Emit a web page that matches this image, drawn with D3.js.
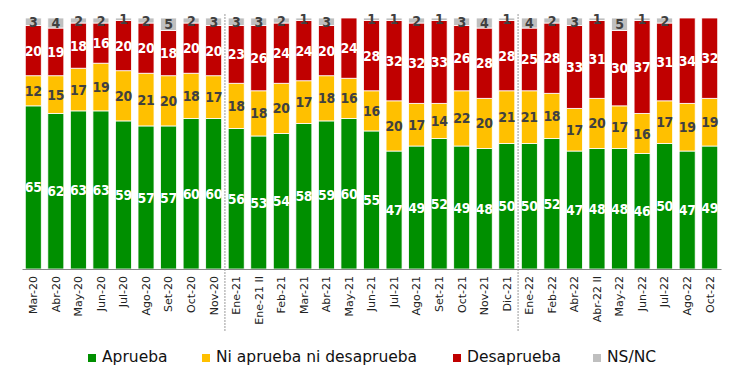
<!DOCTYPE html>
<html>
<head>
<meta charset="utf-8">
<script src="https://cdn.jsdelivr.net/npm/d3@7"></script>
<style>
  body { margin: 0; background: #fff; }
  svg { display: block; }
</style>
</head>
<body>
<div id="chart"></div>
<script>
// Periods shown on the x axis
const periods = ["Mar-20", "Abr-20", "May-20", "Jun-20", "Jul-20", "Ago-20", "Set-20", "Oct-20", "Nov-20",
    "Ene-21", "Ene-21 II", "Feb-21", "Mar-21", "Abr-21", "May-21", "Jun-21", "Jul-21", "Ago-21", "Set-21",
    "Oct-21", "Nov-21", "Dic-21",
    "Ene-22", "Feb-22", "Abr-22", "Abr-22 II", "May-22", "Jun-22", "Jul-22", "Ago-22", "Oct-22"];

// Series values (%)
const aprueba = [65, 62, 63, 63, 59, 57, 57, 60, 60,
    56, 53, 54, 58, 59, 60, 55, 47, 49, 52, 49, 48, 50,
    50, 52, 47, 48, 48, 46, 50, 47, 49];
const niNi = [12, 15, 17, 19, 20, 21, 20, 18, 17,
    18, 18, 20, 17, 18, 16, 16, 20, 17, 14, 22, 20, 21,
    21, 18, 17, 20, 17, 16, 17, 19, 19];
const desaprueba = [20, 19, 18, 16, 20, 20, 18, 20, 20,
    23, 26, 24, 24, 20, 24, 28, 32, 32, 33, 26, 28, 28,
    25, 28, 33, 31, 30, 37, 31, 34, 32];
const nsnc = [3, 4, 2, 2, 1, 2, 5, 2, 3,
    3, 3, 2, 1, 3, 0, 1, 1, 2, 1, 3, 4, 1,
    4, 2, 3, 1, 5, 1, 2, 0, 0];

// Year breaks: dashed line drawn before these periods
const yearBreaks = ["Ene-21", "Ene-22"];

const seriesNames = ["Aprueba", "Ni aprueba ni desaprueba", "Desaprueba", "NS/NC"];
const seriesColors = ["#008f00", "#ffc000", "#c00000", "#bfbfbf"];
const labelColors = ["#ffffff", "#404040", "#ffffff", "#404040"];

const width = 741, height = 382;
const margin = { top: 18, right: 20, bottom: 113, left: 22 };
const innerW = width - margin.left - margin.right;
const innerH = height - margin.top - margin.bottom;

const svg = d3.select("#chart").append("svg")
    .attr("width", width)
    .attr("height", height);

const g = svg.append("g")
    .attr("transform", `translate(${margin.left},${margin.top})`);

// build table for the stack
const table = periods.map((p, i) => ({
    period: p,
    s0: aprueba[i], s1: niNi[i], s2: desaprueba[i], s3: nsnc[i]
}));
const keys = ["s0", "s1", "s2", "s3"];
const stacked = d3.stack().keys(keys)(table);

const x = d3.scaleBand()
    .domain(periods)
    .range([0, innerW])
    .paddingInner(0.29)
    .paddingOuter(0.145);

const y = d3.scaleLinear().domain([0, 100]).range([innerH, 0]);

// bars
const layers = g.selectAll("g.layer")
    .data(stacked)
    .join("g")
    .attr("class", "layer")
    .attr("fill", (d, i) => seriesColors[i]);

layers.selectAll("rect")
    .data(d => d)
    .join("rect")
    .attr("x", d => x(d.data.period))
    .attr("y", d => y(d[1]))
    .attr("width", x.bandwidth())
    .attr("height", d => y(d[0]) - y(d[1]))
    .attr("stroke", "#fff")
    .attr("stroke-width", 0.8);

// value labels
stacked.forEach((layer, i) => {
    g.append("g")
        .selectAll("text")
        .data(layer.filter(d => d[1] - d[0] > 0))
        .join("text")
        .attr("x", d => x(d.data.period) + x.bandwidth() / 2)
        .attr("y", d => (y(d[0]) + y(d[1])) / 2)
        .attr("dy", "0.36em")
        .attr("text-anchor", "middle")
        .style("font-family", "'DejaVu Sans Condensed', 'DejaVu Sans', sans-serif")
        .style("font-stretch", "condensed")
        .style("font-weight", "bold")
        .style("font-size", "14px")
        .style("letter-spacing", "-0.3px")
        .attr("fill", labelColors[i])
        .text(d => d[1] - d[0]);
});

// x axis
const xAxis = g.append("g")
    .attr("transform", `translate(0,${innerH})`)
    .call(d3.axisBottom(x).tickSize(0).tickPadding(6));
xAxis.select(".domain").attr("stroke", "#888").attr("stroke-width", 1.2);
xAxis.selectAll("text")
    .attr("transform", "rotate(-90)")
    .attr("text-anchor", "end")
    .attr("x", -7)
    .attr("y", 0)
    .attr("dy", "0.35em")
    .style("font-family", "'DejaVu Sans', sans-serif")
    .style("font-size", "11px")
    .attr("fill", "#222");

// year separators
const step = x.step();
g.selectAll("line.sep")
    .data(yearBreaks)
    .join("line")
    .attr("class", "sep")
    .attr("x1", d => x(d) - (step - x.bandwidth()) / 2)
    .attr("x2", d => x(d) - (step - x.bandwidth()) / 2)
    .attr("y1", -4)
    .attr("y2", innerH + 62)
    .attr("stroke", "#9a9a9a")
    .attr("stroke-width", 1)
    .attr("stroke-dasharray", "2,1");

// legend
const legendX = [88, 202, 453, 593];
const legend = svg.append("g")
    .selectAll("g")
    .data(seriesNames)
    .join("g")
    .attr("transform", (d, i) => `translate(${legendX[i]},354)`);
legend.append("rect")
    .attr("width", 8)
    .attr("height", 8)
    .attr("fill", (d, i) => seriesColors[i]);
legend.append("text")
    .attr("x", 14)
    .attr("y", 8)
    .style("font-family", "'DejaVu Sans', sans-serif")
    .style("font-size", "15.5px")
    .attr("fill", "#111")
    .text(d => d);
</script>
</body>
</html>
